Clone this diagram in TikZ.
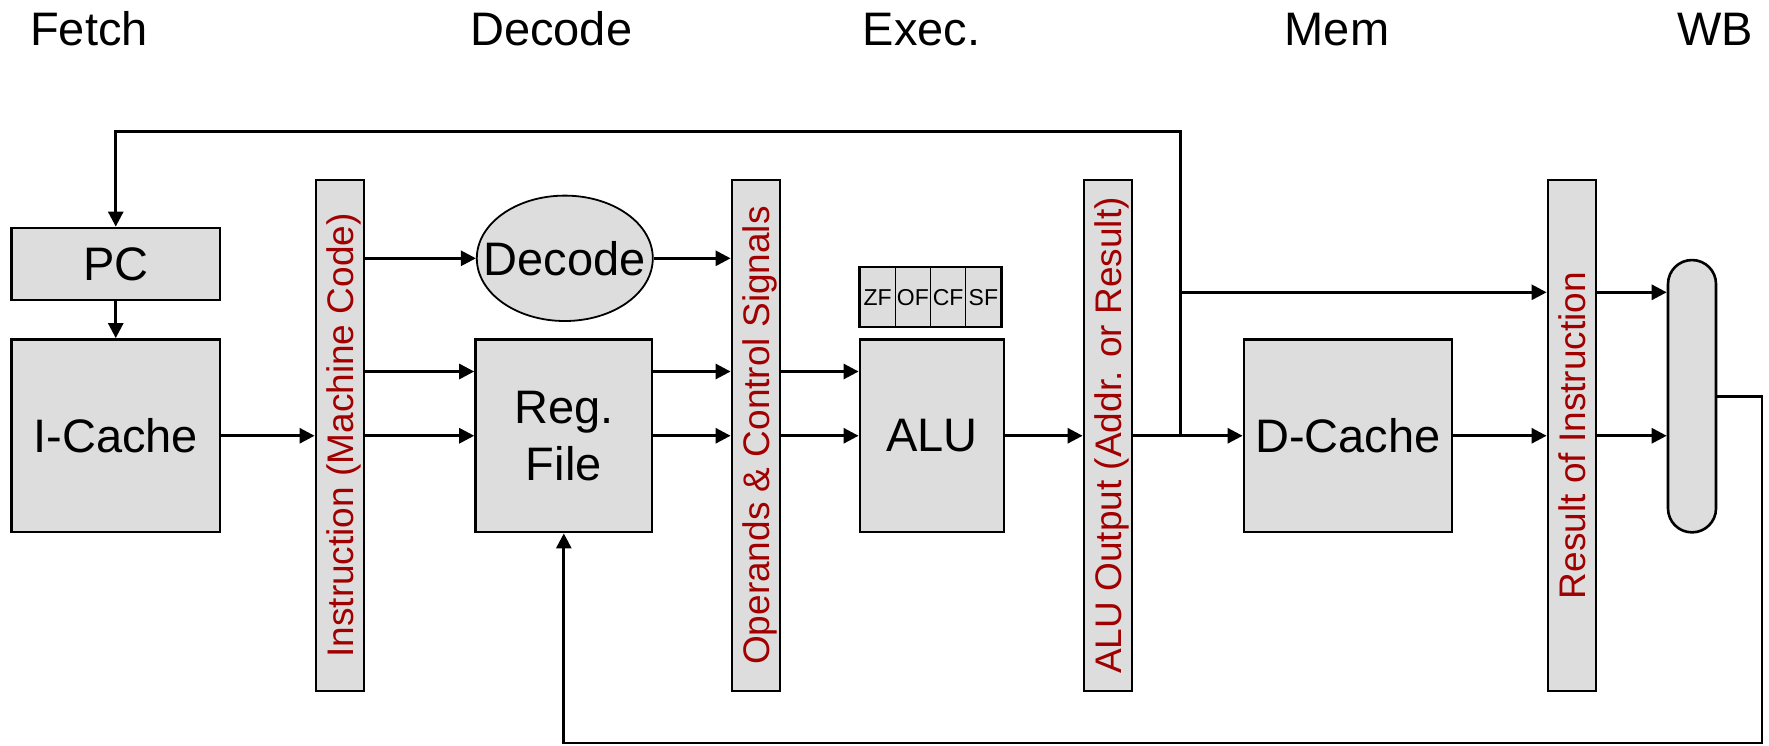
\documentclass[tikz,border=0pt]{standalone}
\usepackage{fontspec}
\setmainfont{Liberation Sans}
\usetikzlibrary{arrows.meta,shapes.geometric,calc}
\definecolor{boxgray}{RGB}{221,221,221}
\definecolor{latchred}{RGB}{160,0,0}
\newcommand\unitfont{\fontsize{47}{57}\selectfont}
\newcommand\latchfont{\fontsize{37}{44}\selectfont}
\newcommand\flagfont{\fontsize{23}{27}\selectfont}

\begin{document}
\begin{tikzpicture}[x=1pt,y=-1pt,
  unit/.style={draw, line width=2.8pt, fill=boxgray, font=\unitfont, align=center},
  latch/.style={draw, line width=2.8pt, fill=boxgray, minimum width=48pt, minimum height=511pt},
  latchtext/.style={rotate=90, anchor=base, text=latchred, font=\latchfont, inner sep=0pt},
  flag/.style={draw, line width=1.2pt, fill=boxgray, minimum width=35.25pt, minimum height=59pt, inner sep=0pt, font=\flagfont},
  wire/.style={line width=2.8pt},
  flow/.style={wire, -{Triangle[length=15pt,width=15pt]}},
  stage/.style={anchor=base west, inner sep=0pt, font=\unitfont},
]
\useasboundingbox (0,0) rectangle (1769,745);

% stage headings
\node[stage] (hf) at (30,45) {Fetch};
\node[stage] (hd) at (470,45) {Decode};
\node[stage] (he) at (862.5,45) {Exec.};
\node[stage] (hm) at (1284.5,45) {Mem};
\node[stage] (hw) at (1677,45) {WB};

% fetch
\node[unit, minimum width=208.5pt, minimum height=72pt] (pc) at (115.75,264) {PC};
\node[unit, minimum width=208.5pt, minimum height=192.5pt] (icache) at (115.75,435.75) {I-Cache};

% pipeline latches
\node[latch] (ifid) at (340,435.5) {};
\node[latchtext] (ifidt) at ($(ifid.center)+(13.5,0)$) {Instruction (Machine Code)};
\node[latch] (idex) at (756,435.5) {};
\node[latchtext] (idext) at ($(idex.center)+(13.5,0)$) {Operands \& Control Signals};
\node[latch] (exmem) at (1108,435.5) {};
\node[latchtext] (exmemt) at ($(exmem.center)+(13.5,0)$) {ALU Output (Addr. or Result)};
\node[latch] (memwb) at (1572,435.5) {};
\node[latchtext] (memwbt) at ($(memwb.center)+(13.5,0)$) {Result of Instruction};

% decode
\node[ellipse, draw, line width=1.8pt, fill=boxgray, minimum width=176pt, minimum height=125.4pt, inner sep=0pt] (dec) at (564.8,258.3) {};
\node[font=\unitfont, inner sep=0pt] (dect) at (dec.center) {Decode};
\node[unit, minimum width=176.4pt, minimum height=192.5pt] (rf) at (563.8,435.75) {Reg.\\File};

% execute
\node[flag] (zf) at (877.6,297.2) {ZF};
\node[flag] (of) at (912.9,297.2) {OF};
\node[flag] (cf) at (948.1,297.2) {CF};
\node[flag] (sf) at (983.4,297.2) {SF};
\draw[line width=1.8pt] (zf.north west) rectangle (sf.south east);
\node[unit, minimum width=144pt, minimum height=192.5pt] (alu) at (932,435.75) {ALU};

% memory
\node[unit, minimum width=208pt, minimum height=192.5pt] (dc) at (1348,435.75) {D-Cache};

% write-back select
\node[draw, line width=2.6pt, fill=boxgray, rounded corners=23.9pt, minimum width=48pt, minimum height=272.3pt] (wb) at (1692,396.2) {};

% routing points
\coordinate (upper) at (0,371.5);
\coordinate (jn) at (1180.5,435.75);
\coordinate (loop) at (1180.5,131.7);
\coordinate (tap) at (1180.5,292.3);
\coordinate (back) at (1762,743);

% connectors
\draw[flow] (pc) -- (icache);
\draw[flow] (icache.east) -- (icache.east -| ifid.west);
\draw[flow] (ifid.east |- dec) -- (dec.west);
\draw[flow] (ifid.east |- upper) -- (rf.west |- upper);
\draw[flow] (ifid.east |- rf) -- (rf.west);
\draw[flow] (dec.east) -- (idex.west |- dec);
\draw[flow] (rf.east |- upper) -- (idex.west |- upper);
\draw[flow] (rf.east) -- (idex.west |- rf);
\draw[flow] (idex.east |- upper) -- (alu.west |- upper);
\draw[flow] (idex.east |- alu) -- (alu.west);
\draw[flow] (alu.east) -- (exmem.west |- alu);
\draw[flow] (exmem.east |- dc) -- (dc.west);
\draw[flow] (jn) -- (loop) -| (pc.north);
\draw[flow] (tap) -- (memwb.west |- tap);
\draw[flow] (dc.east) -- (memwb.west |- dc);
\draw[flow] (memwb.east |- tap) -- (wb.west |- tap);
\draw[flow] (memwb.east |- dc) -- (wb.west |- dc);
\draw[flow] (wb.east) -| (back) -| (rf.south);
\end{tikzpicture}
\end{document}
